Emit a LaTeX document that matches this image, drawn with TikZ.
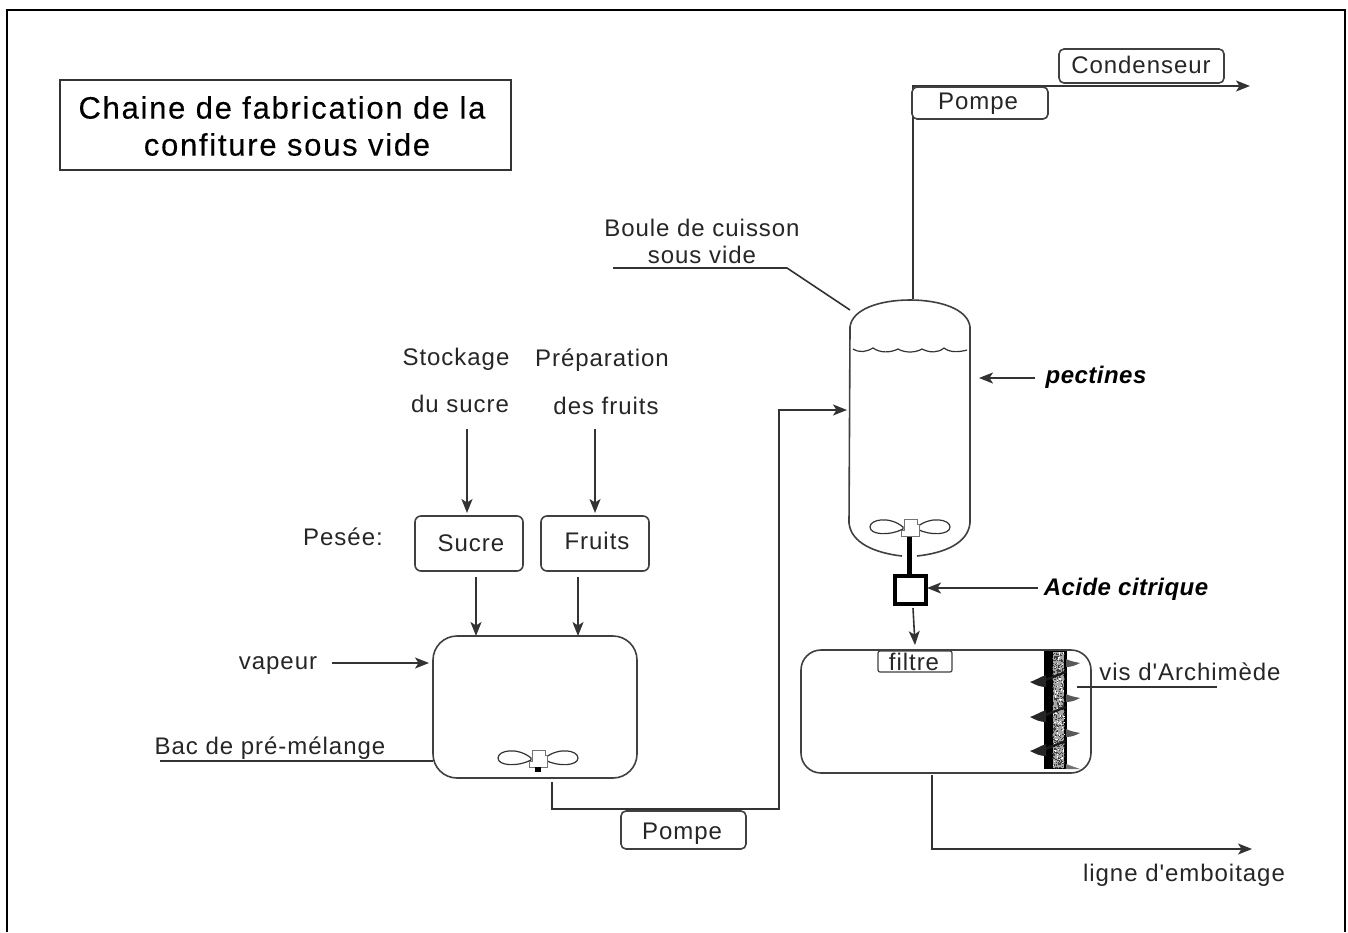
\documentclass[tikz,border=0pt]{standalone}
\usepackage{fontspec}
\setmainfont{Liberation Sans}
\usetikzlibrary{arrows.meta,patterns}
\newfontfamily\lblfont[LetterSpace=4]{Liberation Sans}
\newfontfamily\ttlfont[LetterSpace=5.6,FakeBold=0.25]{Liberation Sans}
\newfontfamily\boldfont[LetterSpace=2]{Liberation Sans}
\tikzset{
  x=1pt,y=-1pt,
  ink/.style={draw=black!75,line width=1.6pt},
  conn/.style={draw=black!80,line width=1.6pt},
  flow/.style={conn,-{Stealth[length=14pt,width=11pt,inset=3.5pt]}},
  lbl/.style={text=black!85,font=\lblfont\fontsize{24}{26}\selectfont,inner sep=0pt,anchor=base},
  ttl/.style={text=black,font=\ttlfont\fontsize{31}{37}\selectfont,inner sep=0pt,align=center},
  bold/.style={text=black,font=\boldfont\fontsize{24}{26}\selectfont\bfseries\itshape,inner sep=0pt,anchor=base},
  rbox/.style={ink,rounded corners=#1,inner sep=0pt,outer sep=0pt,anchor=north west,fill=white},
  blade/.style={draw=black!80,line width=1.2pt,fill=white},
}
\newcommand{\propeller}[2]{%
  \begin{scope}[shift={(#1,#2)}]
    \draw[blade] (-7,0) .. controls (-20,-11) and (-40,-8) .. (-40,0) .. controls (-40,8) and (-20,9) .. (-7,2) -- cycle;
    \draw[blade] (7,0) .. controls (20,-11) and (40,-8) .. (40,0) .. controls (40,8) and (20,9) .. (7,2) -- cycle;
    \draw[draw=black!55,line width=1pt,fill=white] (-6,-8) -- (7,-8) -- (7,-3) -- (9,-3) -- (9,9) -- (-9,9) -- (-9,3) -- (-6,3) -- cycle;
  \end{scope}}
\begin{document}
\begin{tikzpicture}
\useasboundingbox (0,0) rectangle (1348,932);
\fill[white] (0,0) rectangle (1348,932);
% frame
\draw[black,line width=2pt] (7,932) -- (7,10) -- (1345,10) -- (1345,932);
% title
\node[draw=black!80,line width=1.6pt,outer sep=0pt,minimum width=451pt,minimum height=90pt,inner sep=0pt,anchor=north west] (titre) at (60,80) {};
\node[ttl] (titretxt) at (282,126) {Chaine de fabrication de la\\ \hspace*{10pt}confiture sous vide};

% bac de pré-mélange
\node[rbox=24pt,minimum width=204pt,minimum height=142pt] (bac) at (433,636) {};
\propeller{538}{758}
\fill[black] (535,767) rectangle (541,772);
\coordinate (bacout) at (552,782);

% boxes
\node[rbox=6pt,minimum width=108pt,minimum height=55pt] (sucre) at (415,516) {};
\node[lbl] at (471,551) {Sucre};
\node[rbox=6pt,minimum width=108pt,minimum height=55pt] (fruits) at (541,516) {};
\node[lbl] at (597,549) {Fruits};
\node[rbox=5pt,minimum width=125pt,minimum height=38pt] (pompeA) at (621,811) {};
\node[lbl] at (682,839) {Pompe};

% labels
\node[lbl] (stock1) at (456,365) {Stockage};
\node[lbl] (stock2) at (460,412) {du sucre};
\node[lbl] (prep1) at (602,366) {Préparation};
\node[lbl] (prep2) at (606,414) {des fruits};
\node[lbl] (pesee) at (343,545) {Pesée:};
\node[lbl] (vapeur) at (278,669) {vapeur};
\node[lbl] (bacl) at (270,754) {Bac de pré-mélange};
\node[lbl] (boule1) at (702,236) {Boule de cuisson};
\node[lbl] (boule2) at (702,263) {sous vide};
\node[bold] (pect) at (1096,383) {pectines};
\node[bold] (acide) at (1126,595) {Acide citrique};
\node[lbl] (vis) at (1190,680) {vis d'Archimède};
\node[lbl] (ligne) at (1184,881) {ligne d'emboitage};

% free ends
\coordinate (stockout) at (467,429);
\coordinate (prepout) at (595,429);
\coordinate (sucreout) at (476,577);
\coordinate (fruitsout) at (578,577);
\coordinate (vapout) at (332,663);
\coordinate (bacline) at (160,761);
\coordinate (bouleline) at (613,268);
\coordinate (boulebend) at (787,268);
\coordinate (boulein) at (850,310);
\coordinate (feed) at (847,410);
\coordinate (pectin) at (979,378);
\coordinate (pectout) at (1035,378);
\coordinate (acidout) at (1038,588);
\coordinate (mixout) at (913,608);
\coordinate (filtin) at (915,645);
\coordinate (vtop) at (913,299);
\coordinate (vbend) at (913,86);
\coordinate (condout) at (1250,86);
\coordinate (cuveout) at (932,775);
\coordinate (cuvebend) at (932,849);
\coordinate (lineout) at (1252,849);
\coordinate (visa) at (1077,687);
\coordinate (visb) at (1217,687);

% vessel
\draw[ink] (850,327) .. controls (852,309) and (880,300) .. (910,300) .. controls (940,300) and (968,309) .. (970,327)
  -- (970,523) .. controls (968,543) and (945,553) .. (917,556);
\draw[ink] (902,556) .. controls (875,553) and (851,543) .. (849,523) -- (850,327);
\draw[draw=black!80,line width=1.2pt] (853,349) .. controls (860,353) and (866,352) .. (873,348) .. controls (880,353) and (890,353) .. (898,349) .. controls (905,353) and (915,353) .. (922,349) .. controls (930,353) and (938,353) .. (944,348) .. controls (950,353) and (960,352) .. (967,350);
\propeller{910}{527}
% shaft and mixer
\node[draw=black,line width=4pt,outer sep=0pt,minimum width=31pt,minimum height=28pt,inner sep=0pt] (mix) at (910.5,590) {};
\fill[black] (907,537) rectangle (912,576);

% transfer lines
\draw[flow,shorten >=3pt] (stockout) -- (stockout |- sucre.north);
\draw[flow,shorten >=3pt] (prepout) -- (prepout |- fruits.north);
\draw[flow] (sucreout) -- (sucreout |- bac.north);
\draw[flow] (fruitsout) -- (fruitsout |- bac.north);
\draw[flow,shorten >=4pt] (vapout) -- (vapout -| bac.west);
\draw[conn] (bacline) -- (bacline -| bac.west);
\draw[flow] (bacout) -- (552,809) -- (779,809) |- (feed);
\draw[conn] (bouleline) -- (boulebend) -- (boulein);
\draw[flow] (pectout) -- (pectin);
\draw[flow,shorten >=1pt] (acidout) -- (acidout -| mix.east);
\draw[flow] (mixout) -- (filtin);

% top
\draw[flow,line width=1.8pt] (vtop) -- (vbend) -- (condout);
\node[rbox=5pt,minimum width=165pt,minimum height=34pt] (cond) at (1059,49) {};
\node[lbl] at (1141,73) {Condenseur};
\node[rbox=5pt,minimum width=136pt,minimum height=32pt] (pompeB) at (912,87) {};
\node[lbl] at (978,109) {Pompe};

% tank with screw
\node[rbox=20pt,minimum width=290pt,minimum height=123pt] (cuve) at (801,650) {};
\node[draw=black!75,line width=1.2pt,rounded corners=2pt,outer sep=0pt,minimum width=74pt,minimum height=21pt,inner sep=0pt,anchor=north west,fill=white] (filtre) at (878,651) {};
\node[lbl] at (914,670) {filtre};
\fill[black] (1044,651) rectangle (1067,769);
\fill[black!35] (1053,652) rectangle (1064,768);
\pgfmathsetseed{7}
\foreach \k in {1,...,420} {
  \pgfmathsetmacro{\dx}{1052+rnd*12}
  \pgfmathsetmacro{\dy}{652+rnd*116}
  \fill[black!75] (\dx,\dy) rectangle (\dx+1.1,\dy+1.1);
}
\foreach \k in {1,...,90} {
  \pgfmathsetmacro{\dx}{1053+rnd*11}
  \pgfmathsetmacro{\dy}{652+rnd*116}
  \fill[white] (\dx,\dy) rectangle (\dx+1.1,\dy+1.1);
}
\foreach \yy in {679,714,748} \fill[black!90] (1044,\yy) -- (1066,\yy-8) -- (1066,\yy-6) -- (1044,\yy+3) -- cycle;
\foreach \yy in {682,717,751} \fill[black!85] (1030,\yy) .. controls (1036,\yy-2) and (1040,\yy-5) .. (1046,\yy-7) -- (1046,\yy+5) .. controls (1040,\yy+5) and (1036,\yy+3) .. (1030,\yy) -- cycle;
\foreach \yy in {663,698,733} \fill[black!65] (1080,\yy) .. controls (1076,\yy+2) and (1072,\yy+4) .. (1066,\yy+4) -- (1066,\yy-4) .. controls (1070,\yy-2) and (1075,\yy-1) .. (1080,\yy) -- cycle;
\fill[black!55] (1066,764) -- (1080,769) -- (1066,769) -- cycle;
\draw[conn] (visa) -- (visb);

\draw[flow] (cuveout) -- (cuvebend) -- (lineout);
\end{tikzpicture}
\end{document}
